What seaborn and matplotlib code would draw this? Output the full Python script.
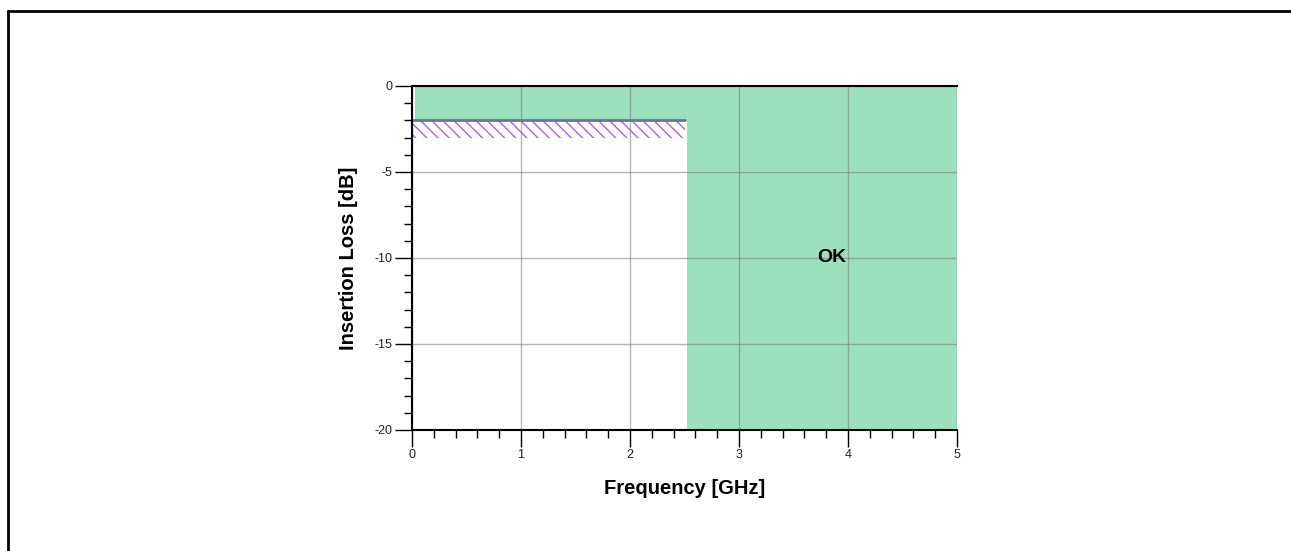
import numpy as np
import pandas as pd
import seaborn as sns
import matplotlib.pyplot as plt
from matplotlib.lines import Line2D
from matplotlib.ticker import MultipleLocator, FuncFormatter

# ── Data ───────────────────────────────────────────────────────────
# insertion loss mask: limit line (max loss in passband)
limit_freq = [0.0, 2.5]
limit_loss = [-2.0, -2.0]
hatch_depth = 1.0  # dB below the limit line

# OK region boundary (frequency GHz, loss dB)
ok_freq = [0.03, 5.0, 5.0, 2.52, 2.52, 0.03]
ok_loss = [0.0, 0.0, -20.0, -20.0, -2.0, -2.0]

x_ticks = [0, 1, 2, 3, 4, 5]
y_ticks = [0, -5, -10, -15, -20]

sns.set_theme(style='white')
plt.rcParams['font.family'] = ['Liberation Sans', 'DejaVu Sans']
plt.rcParams['hatch.linewidth'] = 1.0
plt.rcParams['axes.unicode_minus'] = False

fig = plt.figure(figsize=(12.91, 5.51), dpi=100)
ax = fig.add_axes([412 / 1291, 1 - 430 / 551, 545 / 1291, 344 / 551])

# green OK region
ax.fill(ok_freq, ok_loss, color='#9de0bd', lw=0, zorder=1)

# hatched fail band under the limit line
lim = pd.DataFrame({'freq': limit_freq, 'loss': limit_loss})
ax.fill_between(lim['freq'], lim['loss'], lim['loss'] - hatch_depth,
                facecolor='none', edgecolor='#b060ea', hatch='\\\\\\',
                linewidth=0, zorder=2)
sns.lineplot(data=lim, x='freq', y='loss', color='#5c7a9e', lw=2, ax=ax, zorder=3)

ax.text(3.85, -10, 'OK', fontsize=14, fontweight='bold', color='black',
        ha='center', va='center', zorder=4)

ax.set_xlim(0, 5)
ax.set_ylim(-20, 0)
ax.set_xticks(x_ticks)
ax.set_yticks(y_ticks)
ax.xaxis.set_minor_locator(MultipleLocator(0.2))
ax.yaxis.set_minor_locator(MultipleLocator(1))
ax.yaxis.set_major_formatter(FuncFormatter(lambda v, p: f'{v:g}'))
ax.set_axisbelow(False)
ax.grid(True, which='major', color='#7a7a7a', alpha=0.55, lw=1)

ax.tick_params(which='major', direction='out', length=12, width=1, color='black',
               labelsize=9, labelcolor='#222222', bottom=True, left=True, pad=2)
ax.tick_params(which='minor', direction='out', length=6, width=1, color='black',
               bottom=True, left=True)

for side in ['left', 'bottom', 'top']:
    ax.spines[side].set_color('black')
    ax.spines[side].set_linewidth(1.5)
    ax.spines[side].set_zorder(5)
ax.spines['right'].set_visible(False)

ax.set_xlabel('Frequency [GHz]', fontsize=14.5, fontweight='bold', color='black', labelpad=13)
ax.set_ylabel('Insertion Loss [dB]', fontsize=14.5, fontweight='bold', color='black', labelpad=12)

# outer frame (top and left edges visible)
fig.add_artist(Line2D([8 / 1291, 1.0], [1 - 11 / 551, 1 - 11 / 551],
                      transform=fig.transFigure, color='black', lw=2))
fig.add_artist(Line2D([8 / 1291, 8 / 1291], [0.0, 1 - 11 / 551],
                      transform=fig.transFigure, color='black', lw=2))

plt.savefig('out.png', dpi=100)
plt.close()
